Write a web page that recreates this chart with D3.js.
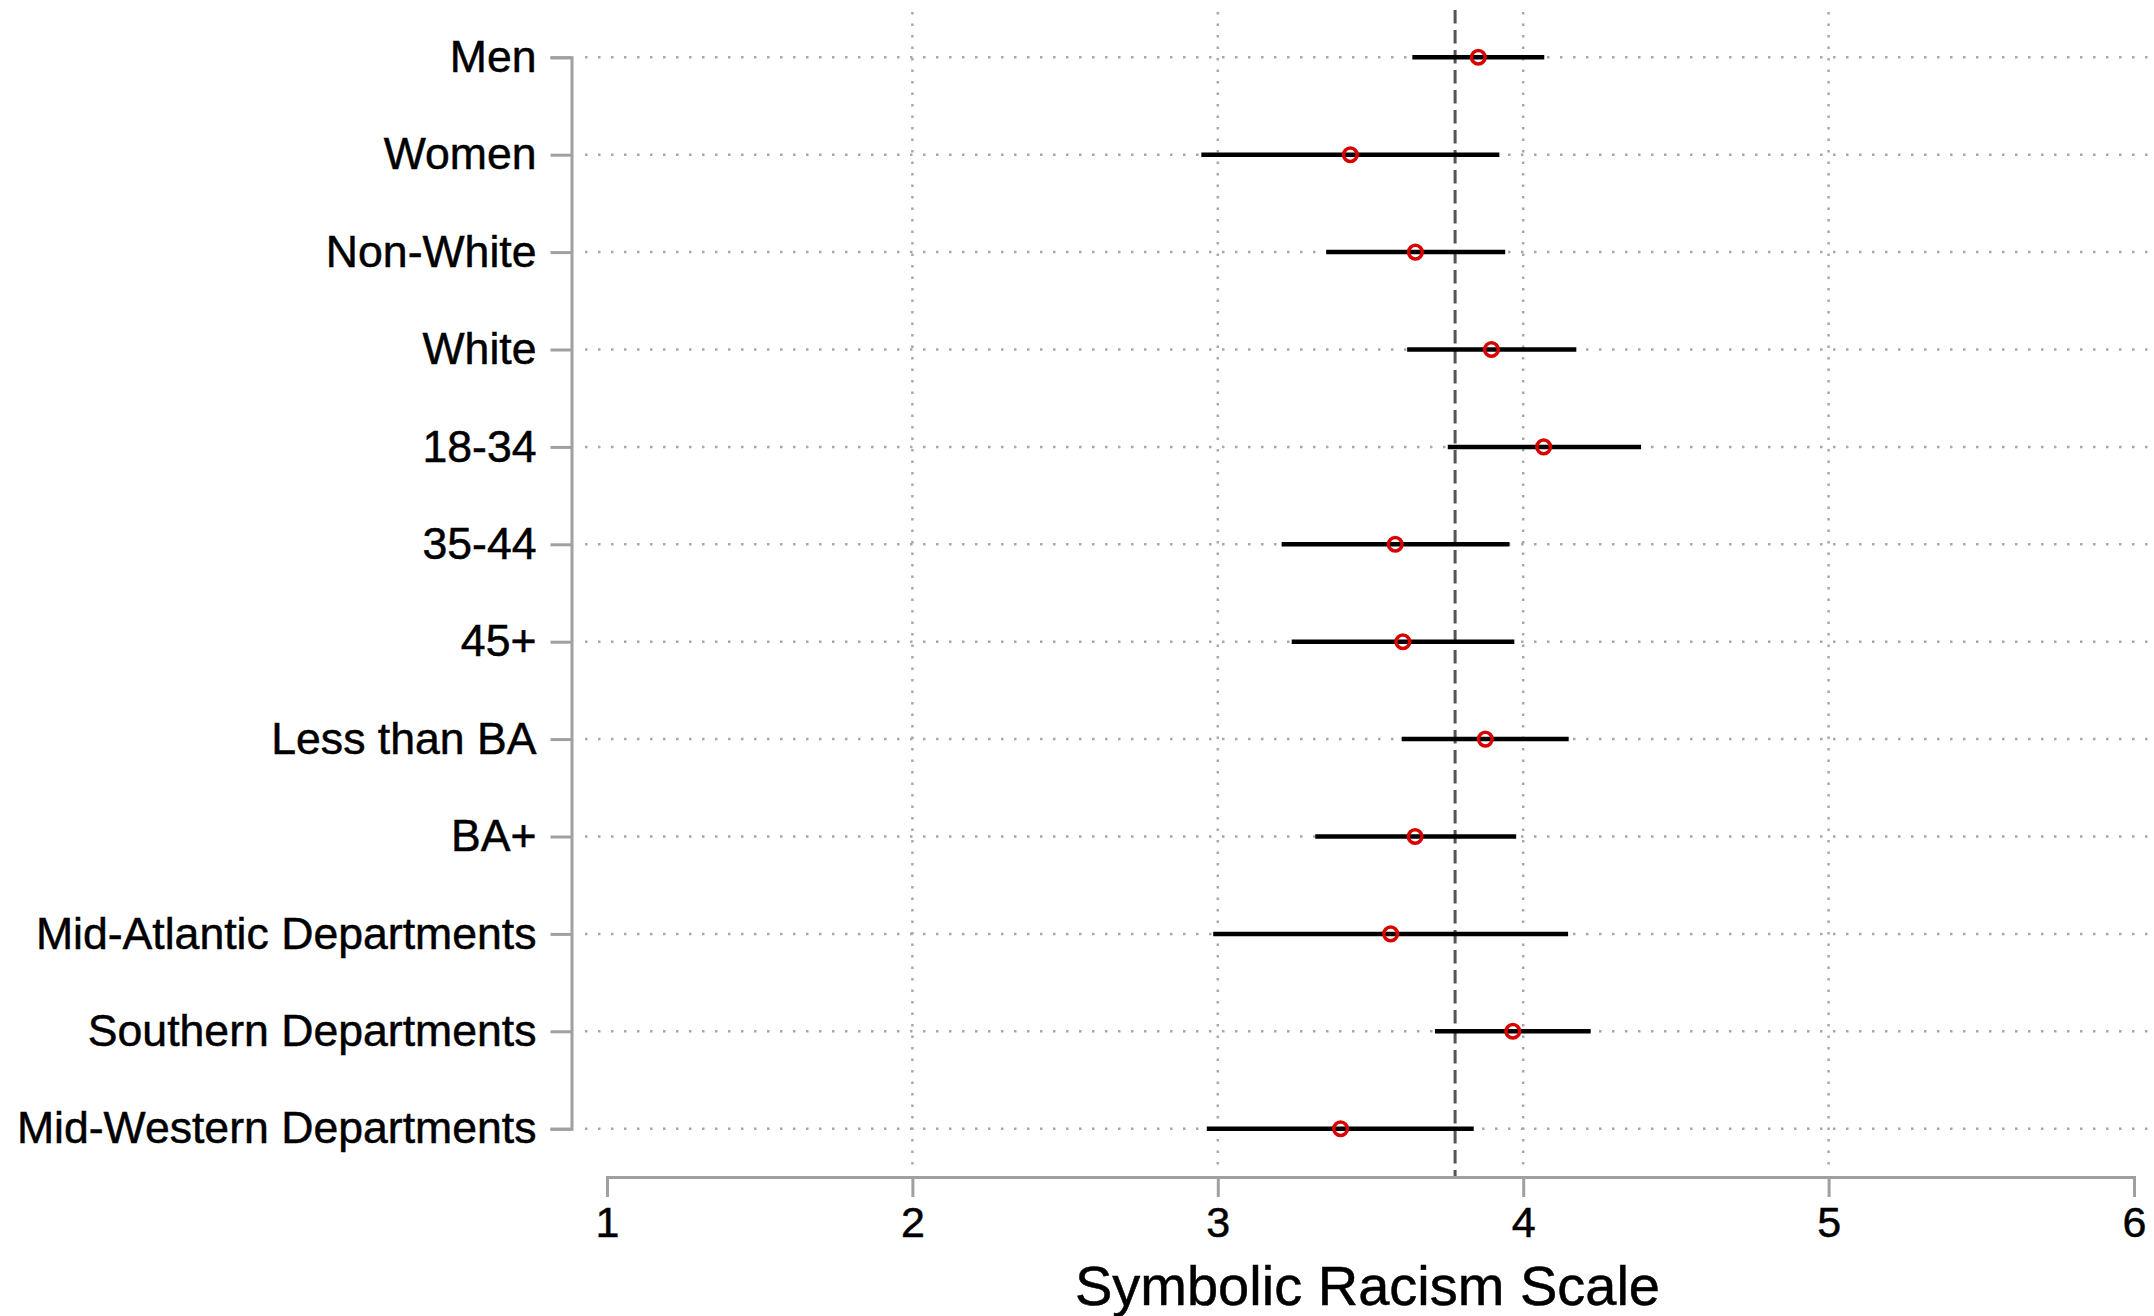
<!DOCTYPE html>
<html>
<head>
<meta charset="utf-8">
<script src="https://cdn.jsdelivr.net/npm/d3@7"></script>
<style>
  body { margin: 0; background: #fff; }
  text { font-family: "Liberation Sans", Arial, Helvetica, sans-serif; fill: #000; stroke: #000; stroke-width: 0.5px; }
</style>
</head>
<body>
<svg id="chart"></svg>
<script>
// groups, top to bottom
var groups = ["Men", "Women", "Non-White", "White", "18-34", "35-44", "45+",
  "Less than BA", "BA+", "Mid-Atlantic Departments", "Southern Departments",
  "Mid-Western Departments"];

// point estimates and confidence bounds
var estimates = [3.853, 3.434, 3.647, 3.896, 4.067, 3.581, 3.606, 3.876, 3.646, 3.566, 3.966, 3.402];
var lower     = [3.637, 2.946, 3.355, 3.620, 3.753, 3.209, 3.242, 3.602, 3.319, 2.985, 3.711, 2.964];
var upper     = [4.069, 3.922, 3.941, 4.174, 4.386, 3.955, 3.971, 4.149, 3.977, 4.147, 4.221, 3.838];

var overallMean = 3.777;
var xTicks = [1, 2, 3, 4, 5, 6];
var gridTicks = [2, 3, 4, 5];
var xTitle = "Symbolic Racism Scale";

var width = 2154, height = 1316;

var svg = d3.select("#chart")
    .attr("width", width)
    .attr("height", height);

var x = d3.scaleLinear()
    .domain([1, 6])
    .range([607, 2134]);

var y = d3.scalePoint()
    .domain(groups)
    .range([57.3, 1128.7]);

var yAxisX = 571.5,
    xAxisY = 1177;

// horizontal dotted grid
svg.append("g")
  .selectAll("line")
  .data(groups)
  .join("line")
    .attr("x1", 585)
    .attr("x2", width)
    .attr("y1", function(d) { return y(d); })
    .attr("y2", function(d) { return y(d); })
    .attr("stroke", "#a8a8a8")
    .attr("stroke-width", 2.5)
    .attr("stroke-dasharray", "2.5,10.5");

// vertical dotted grid
svg.append("g")
  .selectAll("line")
  .data(gridTicks)
  .join("line")
    .attr("x1", function(d) { return x(d); })
    .attr("x2", function(d) { return x(d); })
    .attr("y1", 12)
    .attr("y2", 1166)
    .attr("stroke", "#a8a8a8")
    .attr("stroke-width", 2.5)
    .attr("stroke-dasharray", "2.5,9");

// reference line at the overall mean
svg.append("line")
    .attr("x1", x(overallMean))
    .attr("x2", x(overallMean))
    .attr("y1", 10)
    .attr("y2", xAxisY)
    .attr("stroke", "#555")
    .attr("stroke-width", 3)
    .attr("stroke-dasharray", "13.5,6.5");

// axes
var yAxis = svg.append("g")
    .attr("transform", "translate(" + yAxisX + ",0)")
    .call(d3.axisLeft(y).tickSize(21).tickPadding(14));

var xAxis = svg.append("g")
    .attr("transform", "translate(0," + xAxisY + ")")
    .call(d3.axisBottom(x).tickValues(xTicks).tickFormat(d3.format("d")).tickSize(20));

[yAxis, xAxis].forEach(function(ax) {
  ax.select(".domain").attr("stroke", "#a0a0a0").attr("stroke-width", 3);
  ax.selectAll(".tick line").attr("stroke", "#a0a0a0").attr("stroke-width", 3);
  ax.selectAll("text").attr("fill", "#000");
});

yAxis.selectAll("text").style("font-size", "44.6px");
xAxis.selectAll("text").style("font-size", "43px").attr("y", 60).attr("dy", 0);

// x title
svg.append("text")
    .attr("x", (x(1) + x(6)) / 2 - 3)
    .attr("y", 1305)
    .attr("text-anchor", "middle")
    .style("font-size", "56px")
    .text(xTitle);

// confidence intervals
svg.append("g")
  .selectAll("line")
  .data(groups)
  .join("line")
    .attr("x1", function(d, i) { return x(lower[i]); })
    .attr("x2", function(d, i) { return x(upper[i]); })
    .attr("y1", function(d) { return y(d); })
    .attr("y2", function(d) { return y(d); })
    .attr("stroke", "#000")
    .attr("stroke-width", 4.5);

// point estimates
svg.append("g")
  .selectAll("circle")
  .data(groups)
  .join("circle")
    .attr("cx", function(d, i) { return x(estimates[i]); })
    .attr("cy", function(d) { return y(d); })
    .attr("r", 6.8)
    .attr("fill", "none")
    .attr("stroke", "#d90000")
    .attr("stroke-width", 3.5);
</script>
</body>
</html>
